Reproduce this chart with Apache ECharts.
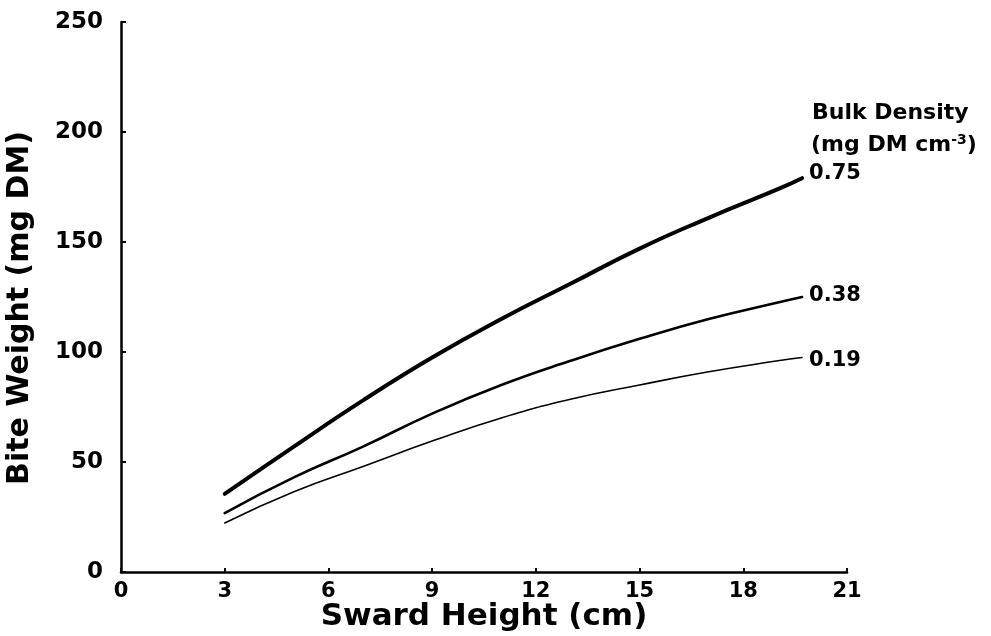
<!DOCTYPE html>
<html>
<head>
<meta charset="utf-8">
<script src="https://cdn.jsdelivr.net/npm/echarts@6/dist/echarts.min.js"></script>
<style>
html,body{margin:0;padding:0;background:#fff;overflow:hidden;}
#chart{width:991px;height:636px;}
</style>
</head>
<body>
<div id="chart"></div>
<script>
// Data
const xTicks = [0, 3, 6, 9, 12, 15, 18, 21];
const yTicks = [0, 50, 100, 150, 200, 250];
const swardHeight = [3, 5, 7, 9, 11, 13, 15, 17, 19, 19.7];
const bd075 = [35.5, 57, 78, 97.5, 115, 131, 147, 161, 174, 179];
const bd038 = [26.8, 43, 57, 72, 85, 96, 106, 115, 122.5, 125];
const bd019 = [22.3, 36.5, 48, 59.5, 70, 78.5, 85, 91, 96, 97.5];
const seriesNames = ['0.75', '0.38', '0.19'];

const FONT = '"DejaVu Sans", "Liberation Sans", Arial, sans-serif';
function pairs(ys){ return swardHeight.map((x,i)=>[x, ys[i]]); }
const widths = [4, 2.6, 1.6];
const labelOffsets = [-5, -1, 3];
const allData = [bd075, bd038, bd019];

const chart = echarts.init(document.getElementById('chart'), null, {renderer:'canvas'});
chart.setOption({
  backgroundColor: '#fff',
  animation: false,
  grid: {left: 121, right: 144, top: 22, bottom: 64, containLabel: false, outerBoundsMode: 'none'},
  xAxis: {
    type: 'value', min: 0, max: 21, interval: 3,
    name: 'Sward Height (cm)', nameLocation: 'middle', nameGap: 29, nameMoveOverlap: false,
    nameTextStyle: {fontFamily: FONT, fontWeight: 'bold', fontSize: 31, color: '#000'},
    axisLine: {show: true, lineStyle: {color: '#000', width: 2.5}},
    axisTick: {show: true, inside: true, length: 4, lineStyle: {color: '#000', width: 2}},
    axisLabel: {fontFamily: FONT, fontWeight: 'bold', fontSize: 21, color: '#000', margin: 9,
      formatter: v => xTicks.includes(v) ? String(v) : ''},
    splitLine: {show: false}
  },
  yAxis: {
    type: 'value', min: 0, max: 250, interval: 50,
    name: 'Bite Weight (mg DM)', nameLocation: 'middle', nameGap: 86, nameRotate: 90, nameMoveOverlap: false,
    nameTextStyle: {fontFamily: FONT, fontWeight: 'bold', fontSize: 30, color: '#000', padding: [0, 22, 0, 0]},
    axisLine: {show: true, lineStyle: {color: '#000', width: 2.5}},
    axisTick: {show: true, inside: true, length: 5, lineStyle: {color: '#000', width: 2}},
    axisLabel: {fontFamily: FONT, fontWeight: 'bold', fontSize: 23, color: '#000', margin: 18,
      formatter: v => yTicks.includes(v) ? String(v) : ''},
    splitLine: {show: false}
  },
  series: allData.map((d, i) => ({
    type: 'line', name: seriesNames[i], data: pairs(d), smooth: true,
    showSymbol: false, symbol: 'none',
    lineStyle: {color: '#000', width: widths[i], cap: 'round'},
    endLabel: {show: true, formatter: seriesNames[i], fontFamily: FONT, fontWeight: 'bold',
      fontSize: 21, color: '#000', distance: 7, offset: [0, labelOffsets[i]]}
  })),
  graphic: [
    {type: 'text', left: 812, top: 102, style: {text: 'Bulk Density', font: 'bold 22px ' + FONT, fill: '#000'}},
    {type: 'text', left: 811, top: 133, style: {
      text: '(mg DM cm{sup|-3})',
      font: 'bold 22px ' + FONT, fill: '#000',
      rich: {sup: {font: 'bold 14px ' + FONT, fill: '#000', verticalAlign: 'top', padding: [0,0,10,0]}}
    }}
  ]
});
</script>
</body>
</html>
